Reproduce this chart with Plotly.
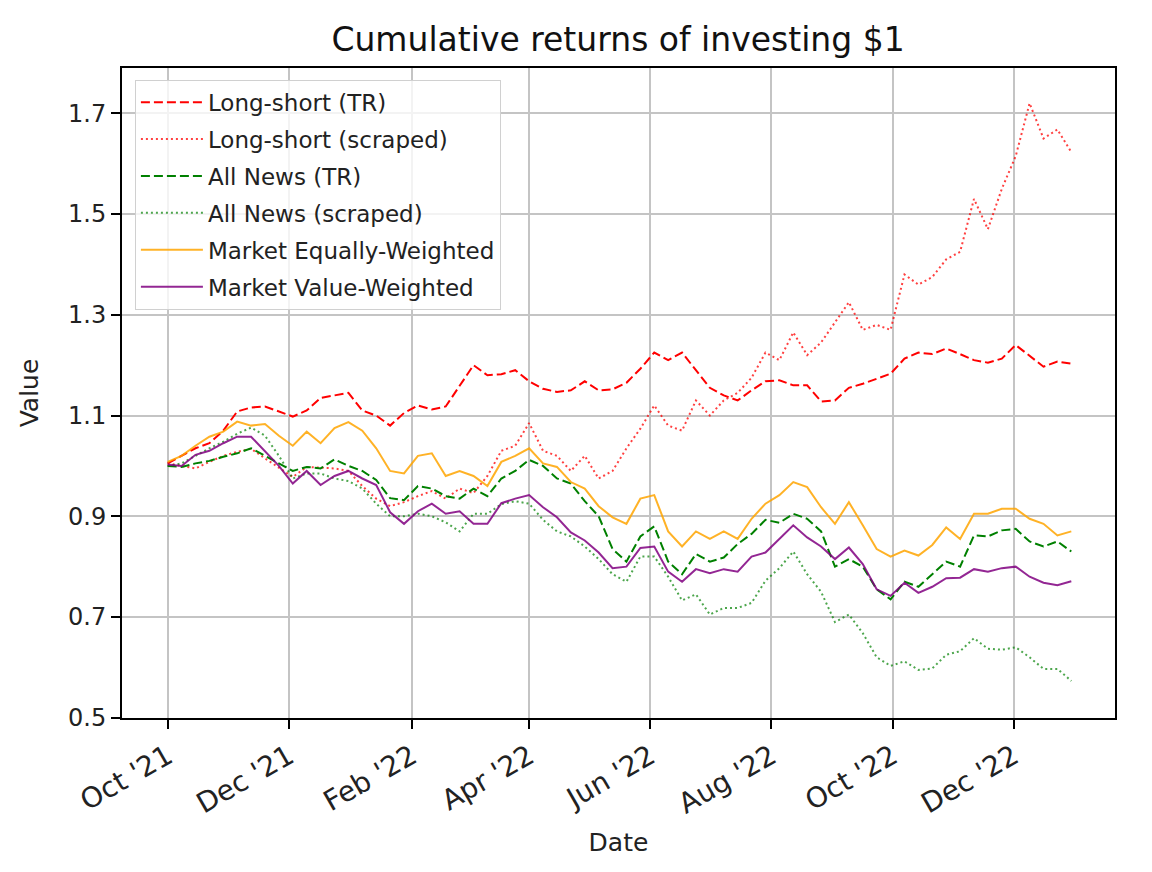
import pandas as pd
import plotly.graph_objects as go

# weekly observations, Fri 1 Oct 2021 -> Fri 30 Dec 2022
dates = pd.date_range("2021-10-01", periods=66, freq="7D")

ls_tr = [1.005, 1.02, 1.035, 1.045, 1.07, 1.108, 1.116, 1.118, 1.108, 1.098,
         1.11, 1.135, 1.14, 1.145, 1.11, 1.10, 1.08, 1.105, 1.12, 1.112,
         1.118, 1.16, 1.20, 1.18, 1.182, 1.19, 1.168, 1.153, 1.147, 1.15,
         1.168, 1.15, 1.152, 1.165, 1.193, 1.225, 1.21, 1.225, 1.19, 1.155,
         1.14, 1.13, 1.15, 1.168, 1.17, 1.16, 1.16, 1.128, 1.13, 1.155,
         1.163, 1.173, 1.183, 1.213, 1.225, 1.222, 1.233, 1.222, 1.21, 1.205,
         1.213, 1.24, 1.218, 1.197, 1.207, 1.203]
ls_scraped = [1.005, 1.0, 0.995, 1.008, 1.02, 1.028, 1.034, 1.015, 0.997, 0.978,
              0.998, 0.996, 0.995, 0.99, 0.96, 0.935, 0.92, 0.928, 0.94, 0.95,
              0.935, 0.955, 0.946, 0.98, 1.03, 1.04, 1.085, 1.03, 1.02, 0.99,
              1.02, 0.975, 0.99, 1.035, 1.074, 1.12, 1.08, 1.07, 1.13, 1.10,
              1.13, 1.145, 1.175, 1.225, 1.21, 1.265, 1.22, 1.245, 1.285, 1.325,
              1.27, 1.28, 1.27, 1.38, 1.36, 1.375, 1.41, 1.425, 1.53, 1.47,
              1.55, 1.615, 1.72, 1.65, 1.668, 1.623]
an_tr = [1.0, 0.998, 1.005, 1.01, 1.018, 1.025, 1.035, 1.02, 1.005, 0.99,
         0.998, 0.995, 1.013, 1.0, 0.99, 0.972, 0.936, 0.932, 0.96, 0.955,
         0.94, 0.935, 0.955, 0.94, 0.975, 0.99, 1.012, 1.0, 0.975, 0.965,
         0.93, 0.90, 0.835, 0.81, 0.86, 0.88, 0.81, 0.785, 0.825, 0.81,
         0.818, 0.845, 0.865, 0.893, 0.887, 0.905, 0.895, 0.87, 0.80, 0.815,
         0.80, 0.755, 0.735, 0.77, 0.76, 0.785, 0.81, 0.80, 0.862, 0.86,
         0.872, 0.875, 0.85, 0.84, 0.85, 0.83]
an_scraped = [1.0, 1.005, 1.02, 1.035, 1.048, 1.064, 1.076, 1.06, 1.02, 0.975,
              0.985, 0.985, 0.975, 0.97, 0.955, 0.925, 0.90, 0.90, 0.905, 0.90,
              0.888, 0.87, 0.905, 0.905, 0.924, 0.93, 0.925, 0.893, 0.87, 0.86,
              0.84, 0.815, 0.785, 0.77, 0.82, 0.82, 0.78, 0.733, 0.745, 0.705,
              0.718, 0.718, 0.728, 0.772, 0.797, 0.83, 0.785, 0.75, 0.69, 0.705,
              0.668, 0.62, 0.603, 0.612, 0.595, 0.598, 0.625, 0.632, 0.658, 0.637,
              0.635, 0.64, 0.62, 0.597, 0.597, 0.573]
mkt_ew = [1.008, 1.02, 1.04, 1.058, 1.068, 1.088, 1.08, 1.083, 1.06, 1.04,
          1.068, 1.045, 1.075, 1.087, 1.07, 1.035, 0.99, 0.985, 1.02, 1.025,
          0.98, 0.99, 0.98, 0.96, 1.008, 1.02, 1.035, 1.005, 0.998, 0.968,
          0.955, 0.92, 0.898, 0.885, 0.935, 0.942, 0.87, 0.84, 0.87, 0.855,
          0.87, 0.855, 0.895, 0.925, 0.942, 0.968, 0.958, 0.918, 0.885, 0.928,
          0.882, 0.835, 0.82, 0.832, 0.822, 0.843, 0.878, 0.855, 0.905, 0.905,
          0.915, 0.915, 0.895, 0.885, 0.862, 0.87]
mkt_vw = [1.003, 1.0, 1.022, 1.03, 1.045, 1.058, 1.058, 1.03, 1.0, 0.965,
          0.99, 0.962, 0.98, 0.99, 0.975, 0.962, 0.908, 0.885, 0.91, 0.925,
          0.905, 0.91, 0.885, 0.885, 0.926, 0.935, 0.942, 0.918, 0.898, 0.868,
          0.852, 0.828, 0.797, 0.80, 0.837, 0.84, 0.79, 0.77, 0.795, 0.787,
          0.795, 0.79, 0.82, 0.828, 0.855, 0.882, 0.858, 0.84, 0.815, 0.838,
          0.805, 0.755, 0.742, 0.768, 0.748, 0.76, 0.777, 0.778, 0.795, 0.79,
          0.797, 0.80, 0.78, 0.768, 0.763, 0.771]

tick_dates = ["2021-10-01", "2021-12-01", "2022-02-01", "2022-04-01",
              "2022-06-01", "2022-08-01", "2022-10-01", "2022-12-01"]
tick_labels = ["Oct '21", "Dec '21", "Feb '22", "Apr '22",
               "Jun '22", "Aug '22", "Oct '22", "Dec '22"]
y_ticks = [0.5, 0.7, 0.9, 1.1, 1.3, 1.5, 1.7]

DASHED = "9px,4px"
DOTTED = "2px,3px"

series = [
    ("Long-short (TR)", ls_tr, "#ff0000", DASHED),
    ("Long-short (scraped)", ls_scraped, "rgba(255,0,0,0.75)", DOTTED),
    ("All News (TR)", an_tr, "#008000", DASHED),
    ("All News (scraped)", an_scraped, "rgba(0,128,0,0.7)", DOTTED),
    ("Market Equally-Weighted", mkt_ew, "rgba(255,165,0,0.85)", "solid"),
    ("Market Value-Weighted", mkt_vw, "rgba(128,0,128,0.85)", "solid"),
]

fig = go.Figure()
for name, vals, color, dash in series:
    # one legend group per trace so tracegroupgap spaces the rows out
    fig.add_trace(go.Scatter(x=dates, y=vals, name=name, mode="lines",
                             legendgroup=name,
                             line=dict(color=color, width=2, dash=dash)))

axis_common = dict(
    showline=True, linecolor="black", linewidth=2, mirror=True,
    ticks="outside", ticklen=9, tickwidth=2, tickcolor="black",
    showgrid=True, gridcolor="#c4c4c4", gridwidth=2, zeroline=False,
)

fig.update_xaxes(
    **axis_common,
    type="date",
    range=["2021-09-08", "2023-01-21"],
    tickvals=tick_dates, ticktext=tick_labels, tickangle=-30,
    tickfont=dict(size=28, color="#222"),
    title=dict(text="Date", font=dict(size=25, color="#222"), standoff=14),
)
fig.update_yaxes(
    **axis_common,
    range=[0.4995, 1.79],
    tickvals=y_ticks, ticktext=[f"{v:.1f}" for v in y_ticks],
    tickfont=dict(size=24, color="#222"),
    title=dict(text="Value", font=dict(size=25, color="#222"), standoff=22),
)

# page body has an 8px margin, so the figure is a little smaller than the window
fig.update_layout(
    width=1136, height=856,
    margin=dict(l=114, r=29, t=60, b=144),
    paper_bgcolor="white", plot_bgcolor="white",
    font=dict(family="DejaVu Sans", color="#222"),
    title=dict(text="Cumulative returns of investing $1", x=0.537, xanchor="center",
               y=0.963, yanchor="middle", font=dict(size=33, color="#111")),
    legend=dict(x=0.013, y=0.982, xanchor="left", yanchor="top",
                bgcolor="rgba(255,255,255,0.8)", bordercolor="#d0d0d0", borderwidth=1,
                font=dict(size=23, color="#222"), itemwidth=62, tracegroupgap=4),
    showlegend=True,
)

fig.write_html("out.html")
